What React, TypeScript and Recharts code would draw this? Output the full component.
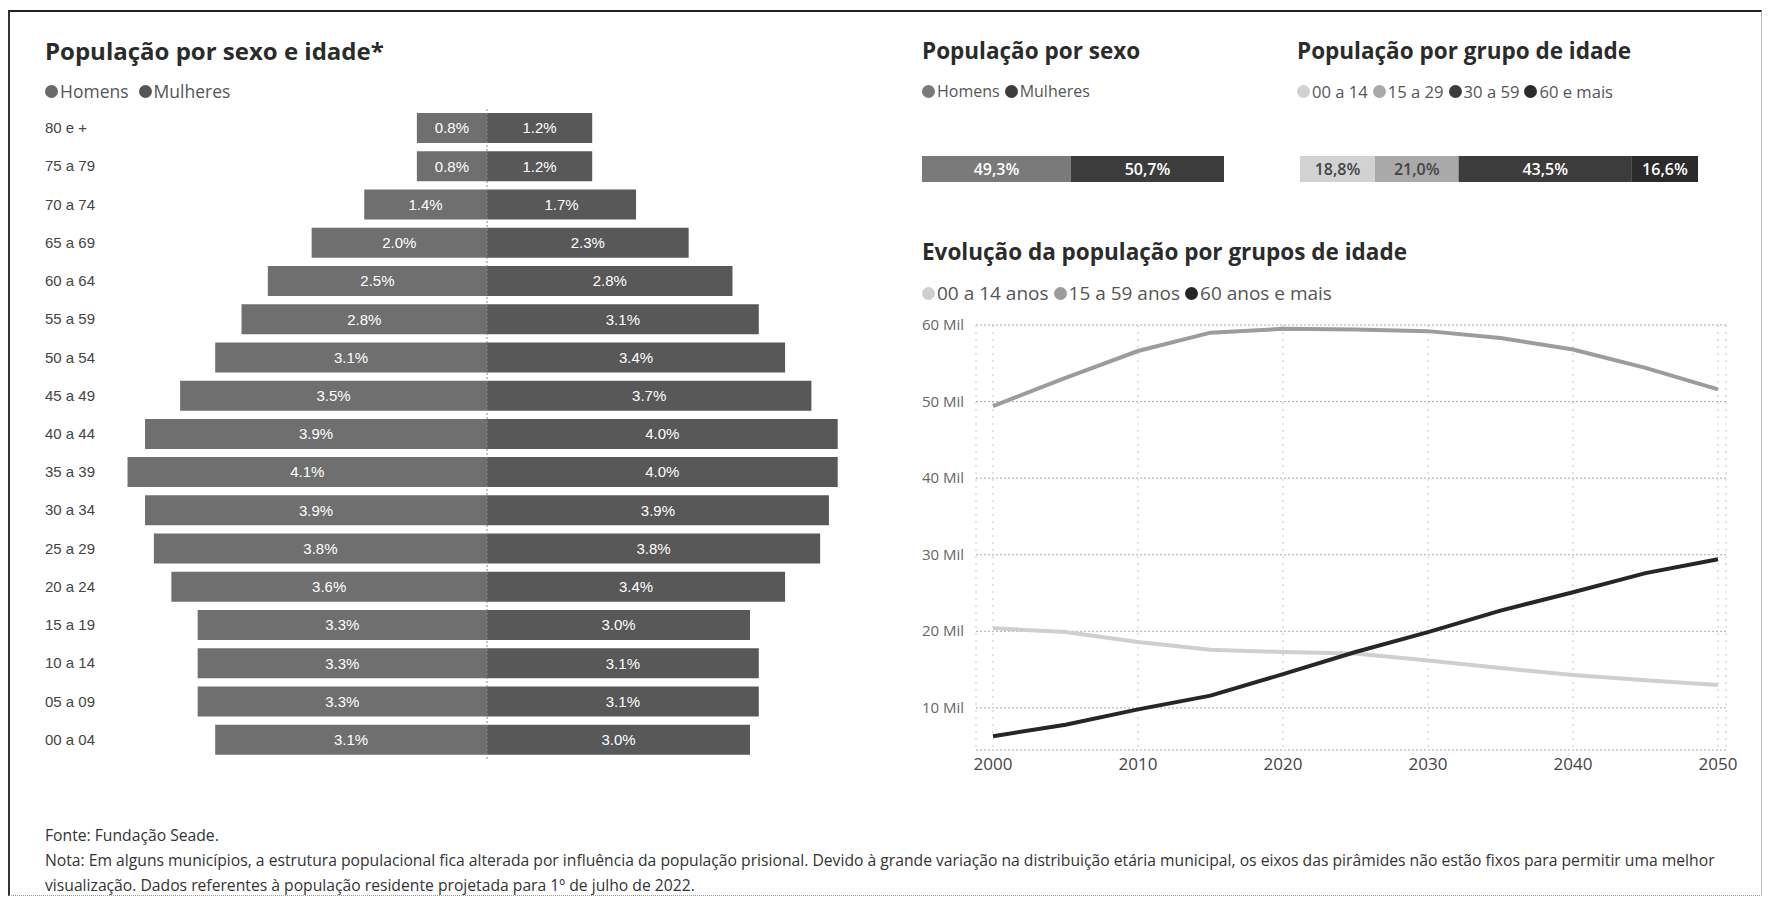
import { Bar, BarChart, CartesianGrid, LabelList, Line, LineChart, ReferenceLine, XAxis, YAxis } from 'recharts';

// pirâmide etária (% da população)
const faixas = ['80 e +', '75 a 79', '70 a 74', '65 a 69', '60 a 64', '55 a 59', '50 a 54', '45 a 49', '40 a 44', '35 a 39', '30 a 34', '25 a 29', '20 a 24', '15 a 19', '10 a 14', '05 a 09', '00 a 04'];
const homens = [0.8, 0.8, 1.4, 2.0, 2.5, 2.8, 3.1, 3.5, 3.9, 4.1, 3.9, 3.8, 3.6, 3.3, 3.3, 3.3, 3.1];
const mulheres = [1.2, 1.2, 1.7, 2.3, 2.8, 3.1, 3.4, 3.7, 4.0, 4.0, 3.9, 3.8, 3.4, 3.0, 3.1, 3.1, 3.0];

// população por sexo
const sexoHomens = 49.3;
const sexoMulheres = 50.7;

// população por grupo de idade
const grupos = ['00 a 14', '15 a 29', '30 a 59', '60 e mais'];
const gruposValores = [18.8, 21.0, 43.5, 16.6];

// evolução (mil habitantes)
const anos = [2000, 2005, 2010, 2015, 2020, 2025, 2030, 2035, 2040, 2045, 2050];
const pop0014 = [20.4, 19.9, 18.6, 17.6, 17.3, 17.1, 16.2, 15.2, 14.3, 13.6, 13.0];
const pop1559 = [49.4, 53.1, 56.6, 59.0, 59.5, 59.4, 59.2, 58.3, 56.8, 54.4, 51.6];
const pop60 = [6.3, 7.8, 9.8, 11.6, 14.4, 17.3, 19.9, 22.7, 25.1, 27.6, 29.4];
const yTicks = [10, 20, 30, 40, 50, 60];
const xTicks = [2000, 2010, 2020, 2030, 2040, 2050];

const corHomens = '#6f6f6f';
const corMulheres = '#585858';
const coresGrupos = ['#d2d2d2', '#a9a9a9', '#3c3c3c', '#2b2b2b'];
const coresLinhas = ['#cfcfcf', '#9c9c9c', '#262626'];

const titleFont = '"Open Sans", sans-serif';
const arial = '"Liberation Sans", Arial, sans-serif';

const pyramidData = faixas.map((f, i) => ({ faixa: f, homens: -homens[i], mulheres: mulheres[i] }));
const sexoData = [{ name: 'sexo', Homens: sexoHomens, Mulheres: sexoMulheres }];
const gruposData = [Object.fromEntries(grupos.map((g, i) => [g, gruposValores[i]]))];
const lineData = anos.map((a, i) => ({ ano: a, g0014: pop0014[i], g1559: pop1559[i], g60: pop60[i] }));

const pct = (v: any) => `${Math.abs(Number(v)).toFixed(1)}%`;
const pctBr = (v: any) => `${Number(v).toFixed(1).replace('.', ',')}%`;

function Title({ x, y, size = 22.5, children }: { x: number; y: number; size?: number; children: any }) {
  return (
    <div style={{ position: 'absolute', left: x, top: y, fontFamily: titleFont, fontWeight: 700, fontSize: size, color: '#2b2b2b', whiteSpace: 'nowrap' }}>
      {children}
    </div>
  );
}

function Legend({ x, y, gap = 5, size = 16, items }: { x: number; y: number; gap?: number; size?: number; items: { label: string; color: string }[] }) {
  return (
    <div style={{ position: 'absolute', left: x, top: y, height: 24, display: 'flex', alignItems: 'center', fontFamily: titleFont, fontSize: size, color: '#555', whiteSpace: 'nowrap' }}>
      {items.map((it) => (
        <span key={it.label} style={{ display: 'flex', alignItems: 'center', marginRight: gap }}>
          <span style={{ width: 13, height: 13, borderRadius: '50%', background: it.color, display: 'inline-block', marginRight: 2 }} />
          {it.label}
        </span>
      ))}
    </div>
  );
}

const PyramidTick = (props: any) => {
  const { y, payload } = props;
  return (
    <text x={45} y={y} dy={5} textAnchor="start" fontFamily={arial} fontSize={15} fill="#444">
      {payload.value}
    </text>
  );
};

const MilTick = (props: any) => {
  const { y, payload } = props;
  return (
    <text x={22} y={y} dy={5} textAnchor="start" fontFamily={titleFont} fontSize={15} fill="#666">
      {`${payload.value} Mil`}
    </text>
  );
};

export default function App() {
  return (
    <div style={{ position: 'absolute', left: 0, top: 0, width: 1769, height: 899, background: '#fff', overflow: 'hidden' }}>
      <div style={{ position: 'absolute', left: 8, top: 10, width: 1754, height: 886, borderTop: '2px solid #222', borderLeft: '2px solid #333', borderRight: '1px solid #bbb', borderBottom: '1px dotted #999', boxSizing: 'border-box' }} />

      <Title x={45} y={34} size={24}>População por sexo e idade*</Title>
      <Legend x={45} y={79} gap={10} size={17.5} items={[{ label: 'Homens', color: '#6a6a6a' }, { label: 'Mulheres', color: '#555' }]} />

      <div style={{ position: 'absolute', left: 0, top: 0 }}>
        <BarChart width={900} height={780} data={pyramidData} layout="vertical" stackOffset="sign" barSize={30} margin={{ top: 109, right: 36, bottom: 21, left: 0 }}>
          <XAxis type="number" domain={[-4.3, 4.3]} hide />
          <YAxis type="category" dataKey="faixa" width={110} axisLine={false} tickLine={false} tick={<PyramidTick />} interval={0} />
          <Bar dataKey="homens" stackId="p" fill={corHomens} isAnimationActive={false}>
            <LabelList dataKey="homens" position="center" formatter={pct} fill="#fff" fontFamily={arial} fontSize={15} />
          </Bar>
          <Bar dataKey="mulheres" stackId="p" fill={corMulheres} isAnimationActive={false}>
            <LabelList dataKey="mulheres" position="center" formatter={pct} fill="#fff" fontFamily={arial} fontSize={15} />
          </Bar>
          <ReferenceLine x={0} stroke="#888" strokeDasharray="2 2" />
        </BarChart>
      </div>

      <Title x={922} y={35}>População por sexo</Title>
      <Legend x={922} y={79} items={[{ label: 'Homens', color: '#7a7a7a' }, { label: 'Mulheres', color: '#3c3c3c' }]} />
      <div style={{ position: 'absolute', left: 922, top: 155 }}>
        <BarChart width={302} height={29} data={sexoData} layout="vertical" barSize={29} margin={{ top: 0, right: 0, bottom: 0, left: 0 }}>
          <XAxis type="number" domain={[0, 100]} hide />
          <YAxis type="category" dataKey="name" hide />
          <Bar dataKey="Homens" stackId="s" fill="#7a7a7a" isAnimationActive={false}>
            <LabelList dataKey="Homens" position="center" formatter={pctBr} fill="#fff" fontFamily={titleFont} fontWeight={600} fontSize={16} />
          </Bar>
          <Bar dataKey="Mulheres" stackId="s" fill="#3c3c3c" isAnimationActive={false}>
            <LabelList dataKey="Mulheres" position="center" formatter={pctBr} fill="#fff" fontFamily={titleFont} fontWeight={600} fontSize={16} />
          </Bar>
        </BarChart>
      </div>

      <Title x={1297} y={35}>População por grupo de idade</Title>
      <Legend x={1297} y={79} size={16.6} items={grupos.map((g, i) => ({ label: g, color: coresGrupos[i] }))} />
      <div style={{ position: 'absolute', left: 1300, top: 155 }}>
        <BarChart width={398} height={29} data={gruposData} layout="vertical" barSize={29} margin={{ top: 0, right: 0, bottom: 0, left: 0 }}>
          <XAxis type="number" domain={[0, 99.9]} hide />
          <YAxis type="category" hide />
          {grupos.map((g, i) => (
            <Bar key={g} dataKey={g} stackId="g" fill={coresGrupos[i]} isAnimationActive={false}>
              <LabelList dataKey={g} position="center" formatter={pctBr} fill={i < 2 ? '#444' : '#fff'} fontFamily={titleFont} fontWeight={600} fontSize={16} />
            </Bar>
          ))}
        </BarChart>
      </div>

      <Title x={922} y={236}>Evolução da população por grupos de idade</Title>
      <Legend x={922} y={281} size={19} items={[{ label: '00 a 14 anos', color: coresLinhas[0] }, { label: '15 a 59 anos', color: coresLinhas[1] }, { label: '60 anos e mais', color: coresLinhas[2] }]} />
      <div style={{ position: 'absolute', left: 900, top: 300 }}>
        <LineChart width={869} height={480} data={lineData} margin={{ top: 25, right: 43, bottom: 0, left: 0 }}>
          <CartesianGrid horizontal={false} stroke="#c8c8c8" strokeDasharray="2 5" />
          <CartesianGrid vertical={false} stroke="#aaa" strokeDasharray="2 2" />
          <XAxis dataKey="ano" type="number" domain={[2000, 2050]} ticks={xTicks} padding={{ left: 17, right: 8 }} axisLine={false} tickLine={false} height={30}
            tick={{ fontFamily: titleFont, fontSize: 17, fill: '#444' }} />
          <YAxis type="number" domain={[4.5, 60]} ticks={yTicks} width={76} axisLine={false} tickLine={false} tick={<MilTick />} />
          <Line dataKey="g0014" stroke={coresLinhas[0]} strokeWidth={4} dot={false} isAnimationActive={false} />
          <Line dataKey="g1559" stroke={coresLinhas[1]} strokeWidth={4} dot={false} isAnimationActive={false} />
          <Line dataKey="g60" stroke={coresLinhas[2]} strokeWidth={4} dot={false} isAnimationActive={false} />
        </LineChart>
      </div>

      <div style={{ position: 'absolute', left: 45, top: 823, fontFamily: titleFont, fontSize: 15.7, lineHeight: '25px', color: '#333', whiteSpace: 'nowrap' }}>
        <div>Fonte: Fundação Seade.</div>
        <div>Nota: Em alguns municípios, a estrutura populacional fica alterada por influência da população prisional. Devido à grande variação na distribuição etária municipal, os eixos das pirâmides não estão fixos para permitir uma melhor</div>
        <div>visualização. Dados referentes à população residente projetada para 1º de julho de 2022.</div>
      </div>
    </div>
  );
}
